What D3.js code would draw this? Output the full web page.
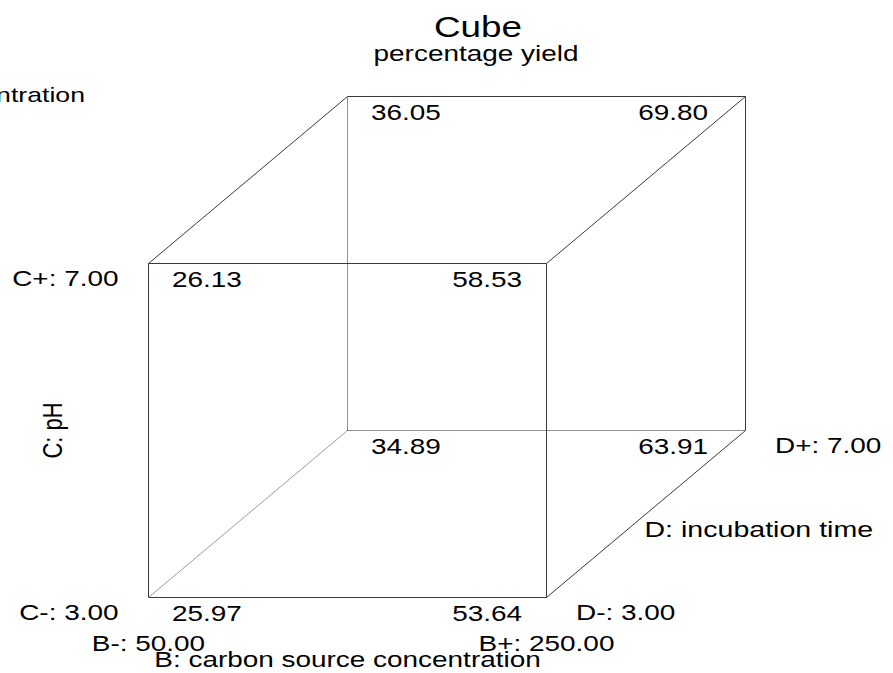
<!DOCTYPE html>
<html>
<head>
<meta charset="utf-8">
<script src="https://cdn.jsdelivr.net/npm/d3@7/dist/d3.min.js"></script>
<style>
  html, body { margin: 0; padding: 0; background: #fff; }
  svg text { font-family: "Liberation Sans", Arial, Helvetica, sans-serif; fill: #000; }
</style>
</head>
<body>
<svg id="chart" width="893" height="673"></svg>
<script>
// Factors shown on the three cube axes
const factorLetters = ["B", "C", "D"];
const factorNames = ["B: carbon source concentration", "C: pH", "D: incubation time"];
const lowLevels = [50.00, 3.00, 3.00];
const highLevels = [250.00, 7.00, 7.00];

// Cube corners in coded units (B, C, D) and the percentage yield at each
const cornerB = [-1, 1, -1, 1, -1, 1, -1, 1];
const cornerC = [-1, -1, 1, 1, -1, -1, 1, 1];
const cornerD = [-1, -1, -1, -1, 1, 1, 1, 1];
const yields = [25.97, 53.64, 26.13, 58.53, 34.89, 63.91, 36.05, 69.80];

const title = "Cube";
const subtitle = "percentage yield";
const sideNote = "A: nitrogen source concentration";

const svg = d3.select("#chart");
const stretch = 1.27;   // wide glyph aspect used for all labels

// Oblique projection: B runs across, C runs up, D recedes up and right
const xB = d3.scaleLinear().domain([-1, 1]).range([148.5, 546.5]);
const yC = d3.scaleLinear().domain([-1, 1]).range([597.5, 263.5]);
const depthX = d3.scaleLinear().domain([-1, 1]).range([0, 199]);
const depthY = d3.scaleLinear().domain([-1, 1]).range([0, -167]);
const project = (b, c, d) => [xB(b) + depthX(d), yC(c) + depthY(d)];

const corners = yields.map((v, i) => ({ b: cornerB[i], c: cornerC[i], d: cornerD[i], v }));

// Twelve edges: corner pairs that differ in exactly one factor
const edges = [];
corners.forEach((p, i) => corners.forEach((q, j) => {
  if (j <= i) return;
  const diff = (p.b !== q.b) + (p.c !== q.c) + (p.d !== q.d);
  if (diff !== 1) return;
  const hidden = [p, q].some(k => k.b === -1 && k.c === -1 && k.d === 1);
  const alongD = p.d !== q.d;
  edges.push({ p, q, hidden, alongD });
}));

svg.append("g").selectAll("line").data(edges).join("line")
  .attr("x1", e => project(e.p.b, e.p.c, e.p.d)[0])
  .attr("y1", e => project(e.p.b, e.p.c, e.p.d)[1])
  .attr("x2", e => project(e.q.b, e.q.c, e.q.d)[0])
  .attr("y2", e => project(e.q.b, e.q.c, e.q.d)[1])
  .attr("stroke", e => e.hidden ? (e.alongD ? "#9a9a9a" : "#222") : "#3a3a3a")
  .attr("stroke-width", 1)
  .attr("stroke-dasharray", e => e.hidden && !e.alongD ? "1,1" : null);

// Helper for horizontally widened labels
function label(text, x, y, size, anchor, rotate) {
  svg.append("text")
    .attr("transform", `translate(${x},${y}) scale(${stretch},1)` + (rotate ? ` rotate(${rotate})` : ""))
    .attr("text-anchor", anchor)
    .attr("font-size", size)
    .text(text);
}

// Yield at each corner
corners.forEach(k => {
  const [px, py] = project(k.b, k.c, k.d);
  const txt = d3.format(".2f")(k.v);
  if (k.b < 0) label(txt, px + 23.5, py + 23, 22, "start");
  else label(txt, px - (k.d < 0 ? 24.5 : 37.5), py + 23, 22, "end");
});

const fmt = d3.format(".2f");

// B axis: level labels under the front bottom corners and the factor name
const [bLoX, bY] = project(-1, -1, -1);
const [bHiX] = project(1, -1, -1);
label(`${factorLetters[0]}-: ${fmt(lowLevels[0])}`, bLoX, bY + 53.5, 22, "middle");
label(`${factorLetters[0]}+: ${fmt(highLevels[0])}`, bHiX, bY + 53.5, 22, "middle");
label(factorNames[0], (bLoX + bHiX) / 2, bY + 69.5, 22, "middle");

// C axis: levels at the left of the front face, rotated name
const [cX, cLoY] = project(-1, -1, -1);
const [, cHiY] = project(-1, 1, -1);
label(`${factorLetters[1]}+: ${fmt(highLevels[1])}`, cX - 30, cHiY + 22.5, 22, "end");
label(`${factorLetters[1]}-: ${fmt(lowLevels[1])}`, cX - 30, cLoY + 22.5, 22, "end");
label(factorNames[1], 62, (cLoY + cHiY) / 2, 22, "middle", -90);

// D axis: levels at the ends of the receding bottom-right edge
const [dLoX, dLoY] = project(1, -1, -1);
const [dHiX, dHiY] = project(1, -1, 1);
label(`${factorLetters[2]}-: ${fmt(lowLevels[2])}`, dLoX + 29.5, dLoY + 22.5, 22, "start");
label(`${factorLetters[2]}+: ${fmt(highLevels[2])}`, dHiX + 29.5, dHiY + 22.5, 22, "start");
label(factorNames[2], (dLoX + dHiX) / 2 - 1.5, (dLoY + dHiY) / 2 + 22.5, 22.5, "start");

// Title block
label(title, 478, 37, 29, "middle");
label(subtitle, 476, 61, 22, "middle");
label(sideNote, 85, 102, 21, "end");
</script>
</body>
</html>
